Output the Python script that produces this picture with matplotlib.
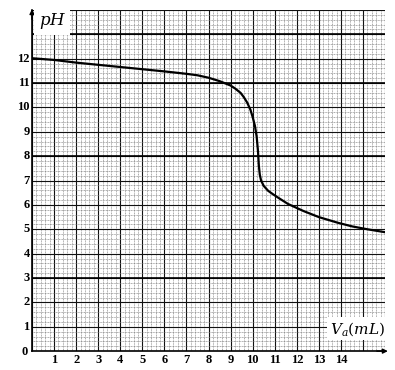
import numpy as np
import matplotlib
matplotlib.use("Agg")
import matplotlib.pyplot as plt
from matplotlib.ticker import MultipleLocator

plt.rcParams["mathtext.fontset"] = "dejavuserif"

# titration curve
volume_ml = [0, 1, 2, 3, 4, 5, 6, 7, 7.5, 8, 8.5, 9, 9.2, 9.45, 9.6, 9.75,
             9.9, 10.0, 10.1, 10.18, 10.24, 10.28, 10.32, 10.38, 10.5, 10.7,
             10.9, 11.2, 11.6, 12.3, 13, 13.85, 14.5, 15.2, 16]
ph_values = [12.02, 11.95, 11.84, 11.75, 11.66, 11.57, 11.48, 11.38, 11.32,
             11.22, 11.08, 10.9, 10.78, 10.6, 10.42, 10.2, 9.9, 9.6, 9.25,
             8.8, 8.2, 7.6, 7.25, 7.0, 6.78, 6.58, 6.45, 6.27, 6.04, 5.75,
             5.5, 5.27, 5.12, 5.0, 4.88]

x_ticks = list(range(0, 15))
y_ticks = list(range(0, 13))
bold_rows = [3, 8, 11, 13]

fig = plt.figure(figsize=(3.95, 3.70), dpi=100)
ax = fig.add_axes([0.081, 0.051, 0.894, 0.922])
ax.set_xlim(0, 16)
ax.set_ylim(0, 14)

# graph paper
ax.xaxis.set_minor_locator(MultipleLocator(0.2))
ax.yaxis.set_minor_locator(MultipleLocator(0.2))
ax.xaxis.set_major_locator(MultipleLocator(1))
ax.yaxis.set_major_locator(MultipleLocator(1))
ax.grid(which="minor", color="#777777", linestyle=(0, (1.5, 1)), linewidth=0.45)
ax.grid(which="major", color="#111111", linewidth=0.8)
for r in bold_rows:
    ax.axhline(r, color="black", linewidth=1.2, zorder=1)
ax.set_axisbelow(True)

for side in ["top", "right"]:
    ax.spines[side].set_visible(False)
for side in ["left", "bottom"]:
    ax.spines[side].set_linewidth(1.2)
ax.tick_params(which="both", length=0, labelbottom=False, labelleft=False)

ax.plot(volume_ml, ph_values, color="black", linewidth=1.6, zorder=3)

# axis arrows
ax.annotate("", xy=(16.25, 0), xytext=(15.5, 0), annotation_clip=False,
            arrowprops=dict(arrowstyle="-|>", color="black", lw=1.0, mutation_scale=7))
ax.annotate("", xy=(0, 14.15), xytext=(0, 13.5), annotation_clip=False,
            arrowprops=dict(arrowstyle="-|>", color="black", lw=1.0, mutation_scale=7))

tick_font = dict(family="Liberation Serif", fontsize=9, fontweight="bold")
for v in x_ticks[1:]:
    ax.text(v, -0.12, str(v), ha="center", va="top", **tick_font)
for p in y_ticks[1:]:
    ax.text(-0.1, p, str(p), ha="right", va="center", **tick_font)
ax.text(-0.2, -0.05, "0", ha="right", va="center", **tick_font)

ax.text(0.3, 13.15, r"$pH$", fontsize=12, ha="left",
        va="bottom", zorder=4,
        bbox=dict(facecolor="white", edgecolor="none", pad=3))
ax.text(13.5, 0.55, r"$V_a(mL)$", fontsize=11, ha="left", va="bottom", zorder=4,
        bbox=dict(facecolor="white", edgecolor="none", pad=2))

fig.savefig("out.png", dpi=100)
